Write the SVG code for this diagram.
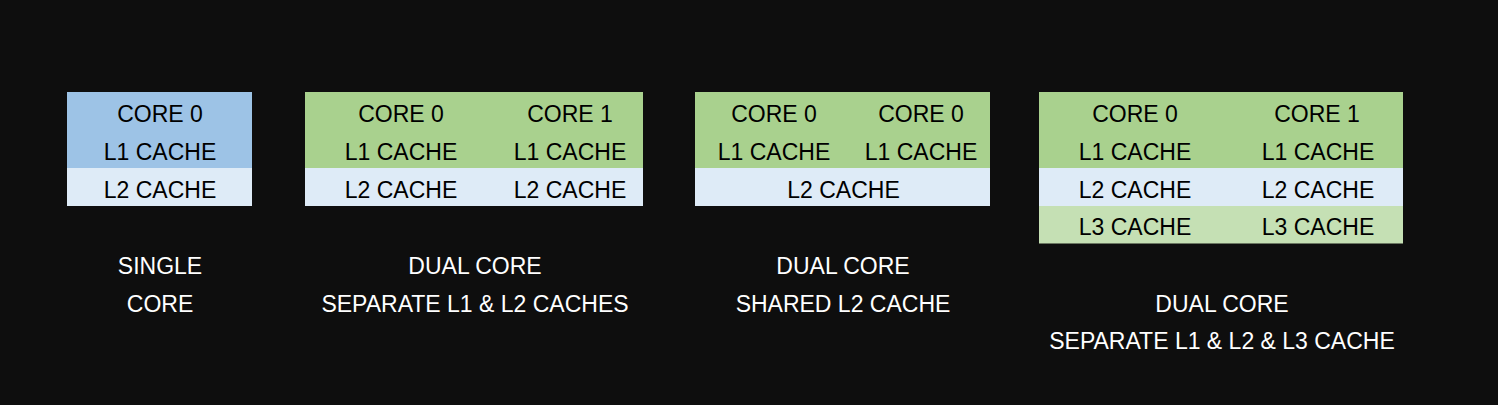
<svg xmlns="http://www.w3.org/2000/svg" width="1498" height="405" viewBox="0 0 1498 405">
  <style>
    .t { font-family: "Liberation Sans", Arial, sans-serif; font-size: 23px; text-anchor: middle; fill: #000000; }
    .lbl { font-family: "Liberation Sans", Arial, sans-serif; font-size: 23px; text-anchor: middle; fill: #ffffff; }
    .blue { fill: #9dc3e6; }
    .pale { fill: #deebf7; }
    .green { fill: #a9d18e; }
    .lgreen { fill: #c5e0b4; }
  </style>
  <rect x="0" y="0" width="1498" height="405" fill="#0e0e0e"/>

  <g id="single-core">
    <rect class="blue" x="67" y="92" width="185" height="76"/>
    <rect class="pale" x="67" y="168" width="185" height="38"/>
    <text class="t" x="160" y="122.3">CORE 0</text>
    <text class="t" x="160" y="160">L1 CACHE</text>
    <text class="t" x="160" y="197.7">L2 CACHE</text>
    <text class="lbl" x="160" y="274">SINGLE</text>
    <text class="lbl" x="160" y="311.7">CORE</text>
  </g>

  <g id="dual-core-separate">
    <rect class="green" x="305" y="92" width="338" height="76"/>
    <rect class="pale" x="305" y="168" width="338" height="38"/>
    <text class="t" x="401" y="122.3">CORE 0</text>
    <text class="t" x="570" y="122.3">CORE 1</text>
    <text class="t" x="401" y="160">L1 CACHE</text>
    <text class="t" x="570" y="160">L1 CACHE</text>
    <text class="t" x="401" y="197.7">L2 CACHE</text>
    <text class="t" x="570" y="197.7">L2 CACHE</text>
    <text class="lbl" x="475" y="274">DUAL CORE</text>
    <text class="lbl" x="475" y="311.7">SEPARATE L1 &amp; L2 CACHES</text>
  </g>

  <g id="dual-core-shared">
    <rect class="green" x="695" y="92" width="295" height="76"/>
    <rect class="pale" x="695" y="168" width="295" height="38"/>
    <text class="t" x="774" y="122.3">CORE 0</text>
    <text class="t" x="921" y="122.3">CORE 0</text>
    <text class="t" x="774" y="160">L1 CACHE</text>
    <text class="t" x="921" y="160">L1 CACHE</text>
    <text class="t" x="843.5" y="197.7">L2 CACHE</text>
    <text class="lbl" x="843" y="274">DUAL CORE</text>
    <text class="lbl" x="843" y="311.7">SHARED L2 CACHE</text>
  </g>

  <g id="dual-core-l3">
    <rect class="green" x="1039" y="92" width="364" height="76"/>
    <rect class="pale" x="1039" y="168" width="364" height="38"/>
    <rect class="lgreen" x="1039" y="206" width="364" height="37.5"/>
    <text class="t" x="1135" y="122.3">CORE 0</text>
    <text class="t" x="1317" y="122.3">CORE 1</text>
    <text class="t" x="1135" y="160">L1 CACHE</text>
    <text class="t" x="1318" y="160">L1 CACHE</text>
    <text class="t" x="1135" y="197.7">L2 CACHE</text>
    <text class="t" x="1318" y="197.7">L2 CACHE</text>
    <text class="t" x="1135" y="235.4">L3 CACHE</text>
    <text class="t" x="1318" y="235.4">L3 CACHE</text>
    <text class="lbl" x="1222" y="311.7">DUAL CORE</text>
    <text class="lbl" x="1222" y="349.4">SEPARATE L1 &amp; L2 &amp; L3 CACHE</text>
  </g>
</svg>
